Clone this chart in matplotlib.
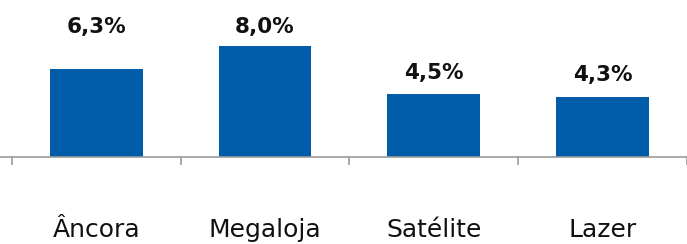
import matplotlib.pyplot as plt

categories = ["Âncora", "Megaloja", "Satélite", "Lazer"]
values = [6.3, 8.0, 4.5, 4.3]
value_labels = ["6,3%", "8,0%", "4,5%", "4,3%"]

# extra gap between bar top and its label (first label sits higher)
label_gap = [3.05, 1.35, 1.55, 1.6]

bar_color = "#005CA9"
axis_color = "#9a9a9a"

plt.rcParams["font.family"] = ["DejaVu Sans"]

fig = plt.figure(figsize=(6.87, 2.44), dpi=100)
ax = fig.add_axes([0, 0, 1, 1])

x = list(range(len(categories)))
ax.bar(x, values, width=0.55, color=bar_color, zorder=2)

for xi, v, lab, gap in zip(x, values, value_labels, label_gap):
    ax.text(xi, v + gap, lab, ha="center", va="center",
            fontsize=15.5, fontweight="bold", color="#111111")

for xi, cat in zip(x, categories):
    ax.text(xi, -5.25, cat, ha="center", va="center",
            fontsize=18, color="#111111")

ax.set_xlim(-0.57, 3.44)
ax.set_ylim(-6.26, 11.3)

for side in ["top", "right", "left"]:
    ax.spines[side].set_visible(False)
ax.spines["bottom"].set_position(("data", 0))
ax.spines["bottom"].set_color(axis_color)
ax.spines["bottom"].set_linewidth(1.2)

ax.set_yticks([])
ax.set_xticks([i - 0.5 for i in range(len(categories) + 1)])
ax.set_xticklabels([])
ax.tick_params(axis="x", direction="out", length=6, width=1.2, color=axis_color)

fig.savefig("out.png", dpi=100)
